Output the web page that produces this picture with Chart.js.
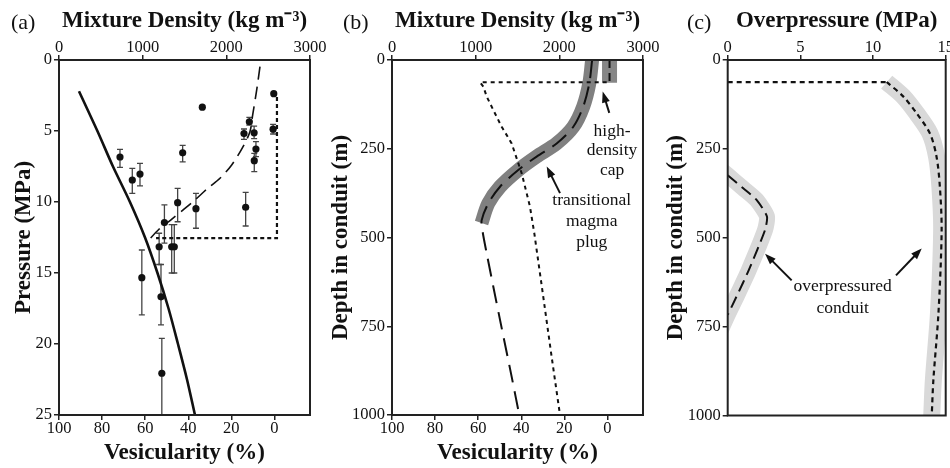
<!DOCTYPE html>
<html>
<head>
<meta charset="utf-8">
<script src="https://cdn.jsdelivr.net/npm/chart.js@4"></script>
<style>
  body { margin: 0; background: #fff; width: 950px; height: 468px; position: relative; overflow: hidden; }
  .panel { position: absolute; top: 0; height: 468px; }
  .tag { position: absolute; top: 11px; font: 22px/1 'Liberation Serif', serif; color: #111; }
</style>
</head>
<body>
<div class="panel" style="left:0;width:330px"><canvas id="ca" width="330" height="468"></canvas></div>
<div class="panel" style="left:320px;width:350px"><canvas id="cb" width="350" height="468"></canvas></div>
<div class="panel" style="left:650px;width:300px"><canvas id="cc" width="300" height="468"></canvas></div>
<div class="tag" style="left:11px">(a)</div>
<div class="tag" style="left:343px">(b)</div>
<div class="tag" style="left:687px">(c)</div>
<script>
const SERIF = "'Liberation Serif', 'Times New Roman', serif";

// tick labels
const DENSITY_TICKS = [0, 1000, 2000, 3000];
const VES_TICKS = [100, 80, 60, 40, 20, 0];
const PRESSURE_TICKS = [0, 5, 10, 15, 20, 25];
const DEPTH_TICKS = [0, 250, 500, 750, 1000];
const OVERP_TICKS = [0, 5, 10, 15];

// (a) mixture density (kg m-3) vs pressure (MPa)
const A_SOLID_DENSITY = [239, 459, 645, 848, 1028, 1177, 1309, 1422, 1530, 1625];
const A_SOLID_P = [2.2, 5, 7.5, 10, 12.5, 15, 17.5, 20, 22.5, 25];
const A_DASH_DENSITY = [2402, 2363, 2315, 2282, 2195, 2064, 1924, 1777, 1625, 1494, 1335, 1195, 1055];
const A_DASH_P = [0.47, 2.11, 3.87, 5.05, 6.15, 7.39, 8.33, 9.04, 9.86, 10.51, 11.27, 11.92, 12.8];
const A_DOT_DENSITY = [2605, 2605, 1160];
const A_DOT_P = [2.6, 12.55, 12.55];
const SAMPLE_DENSITY = [2567, 1713, 2275, 2211, 2332, 2559, 2354, 2334, 1478, 729, 876, 968, 1418, 1637, 2231, 1260, 1197, 1347, 1378, 990, 1219, 1229];
const SAMPLE_P =       [2.37, 3.32, 4.35, 5.18, 5.13, 4.87, 6.27, 7.09, 6.54, 6.83, 8.45, 8.03, 10.05, 10.47, 10.37, 11.45, 13.15, 13.15, 13.15, 15.33, 16.68, 22.06];
const SAMPLE_P_LOW =   [null, null, 4.04, 4.86, 4.65, 4.53, 5.75, 6.57, 6.01, 6.29, 7.63, 7.28, 9.04, 9.39, 9.32, 10.2, 12.2, 11.6, 11.6, 13.38, 14.4, 19.6];
const SAMPLE_P_HIGH =  [null, null, 4.58, 5.59, 5.54, 5.21, 6.81, 7.86, 7.18, 7.56, 9.39, 8.87, 11.39, 11.85, 11.69, 12.9, 14.4, 15.0, 15.0, 17.95, 18.66, 26];

// (b) mixture density vs depth (m)
const B_BAND_DENSITY = [2392, 2358, 2286, 2167, 1968, 1729, 1509, 1291, 1151, 1070];
const B_BAND_DEPTH = [0, 66, 131, 188, 235, 272, 310, 357, 404, 459];
const B_DASH_DENSITY = [2392, 2358, 2286, 2167, 1968, 1729, 1509, 1291, 1151, 1072, 1080, 1132, 1291, 1430, 1521];
const B_DASH_DEPTH = [0, 66, 131, 188, 235, 272, 310, 357, 404, 451, 479, 545, 732, 892, 1000];
const B_CAP_DENSITY = [2600, 2600];
const B_CAP_DEPTH = [0, 64];
const B_DOT_DENSITY = [2566, 1052, 1092, 1132, 1211, 1311, 1430, 1550, 1649, 1702, 1808, 1908, 2008];
const B_DOT_DEPTH = [63, 63, 75, 103, 141, 188, 235, 319, 413, 490, 667, 836, 1000];

// (c) overpressure (MPa) vs depth (m)
const C_TOP_P = [0, 10.94];
const C_TOP_DEPTH = [62, 62];
const C_DOT_P = [10.94, 12.09, 13.0, 13.92, 14.37, 14.6, 14.72, 14.5, 14.15, 14.04];
const C_DOT_DEPTH = [62, 103, 150, 207, 272, 357, 480, 713, 901, 1000];
const C_DASH_P = [0, 1.07, 2.0, 2.7, 2.57, 1.45, 0.6, 0];
const C_DASH_DEPTH = [324, 361, 394, 440, 478, 591, 666, 717];
const C_BAND_L_P = [-0.8, 0, 1.07, 2.0, 2.7, 2.57, 1.45, 0.6, 0, -0.6];
const C_BAND_L_DEPTH = [296, 324, 361, 394, 440, 478, 591, 666, 717, 771];

const pts = (xs, ys) => xs.map((x, i) => ({ x, y: ys[i] }));

function axis(position, min, max, ticks, title, size, titlePad, extra) {
  const horiz = position === 'top' || position === 'bottom';
  return Object.assign({
    type: 'linear', position, min, max,
    afterBuildTicks: s => { s.ticks = ticks.map(v => ({ value: v })); },
    afterFit: s => {
      if (horiz) s.height = size; else s.width = size;
      s.paddingLeft = s.paddingRight = s.paddingTop = s.paddingBottom = 0;
    },
    ticks: { color: '#111', font: { family: SERIF, size: 16.5 }, autoSkip: false, maxRotation: 0,
             callback: v => String(v),
             padding: position === 'top' ? -3 : position === 'bottom' ? -1 : 2 },
    grid: { drawOnChartArea: false, drawTicks: true, tickLength: 5, color: '#222', lineWidth: 1.5 },
    border: { display: false },
    title: { display: !!title, text: title, color: '#111', padding: titlePad,
             font: { family: SERIF, size: 23, weight: 'bold' } }
  }, extra || {});
}

function line(data, color, width, dash, extra) {
  return Object.assign({ data, showLine: true, pointRadius: 0, borderColor: color, borderWidth: width,
    borderDash: dash, borderCapStyle: 'butt', tension: 0.3, fill: false, order: 1 }, extra || {});
}

function arrow(ctx, x0, y0, x1, y1) {
  const a = Math.atan2(y1 - y0, x1 - x0), L = 11, W = 4;
  ctx.beginPath();
  ctx.moveTo(x0, y0);
  ctx.lineTo(x1 - 8 * Math.cos(a), y1 - 8 * Math.sin(a));
  ctx.stroke();
  ctx.beginPath();
  ctx.moveTo(x1, y1);
  ctx.lineTo(x1 - L * Math.cos(a) + W * Math.sin(a), y1 - L * Math.sin(a) - W * Math.cos(a));
  ctx.lineTo(x1 - L * Math.cos(a) - W * Math.sin(a), y1 - L * Math.sin(a) + W * Math.cos(a));
  ctx.closePath();
  ctx.fill();
}

// frame, error bars and text notes
const frame = {
  id: 'frame',
  afterDraw(chart) {
    const { ctx, chartArea: a } = chart;
    ctx.save();
    ctx.strokeStyle = '#222';
    ctx.lineWidth = 2;
    ctx.strokeRect(a.left, a.top, a.right - a.left, a.bottom - a.top);
    ctx.restore();
  }
};

const errorBars = {
  id: 'errorBars',
  beforeDatasetsDraw(chart) {
    const { ctx, chartArea: a } = chart, sx = chart.scales.x, sy = chart.scales.y;
    ctx.save();
    ctx.beginPath();
    ctx.rect(a.left, a.top, a.right - a.left, a.bottom - a.top);
    ctx.clip();
    ctx.strokeStyle = '#444';
    ctx.lineWidth = 1.3;
    SAMPLE_DENSITY.forEach((d, i) => {
      if (SAMPLE_P_LOW[i] == null) return;
      const px = sx.getPixelForValue(d);
      const y1 = sy.getPixelForValue(SAMPLE_P_LOW[i]), y2 = sy.getPixelForValue(SAMPLE_P_HIGH[i]);
      ctx.beginPath();
      ctx.moveTo(px, y1); ctx.lineTo(px, y2);
      ctx.moveTo(px - 3, y1); ctx.lineTo(px + 3, y1);
      ctx.moveTo(px - 3, y2); ctx.lineTo(px + 3, y2);
      ctx.stroke();
    });
    ctx.restore();
  }
};

const notes = {
  id: 'notes',
  afterDatasetsDraw(chart, args, opts) {
    const { ctx } = chart, sx = chart.scales.x, sy = chart.scales.y;
    ctx.save();
    ctx.fillStyle = '#111';
    ctx.strokeStyle = '#111';
    ctx.lineWidth = 2;
    ctx.font = `17.5px ${SERIF}`;
    ctx.textAlign = 'center';
    ctx.textBaseline = 'middle';
    (opts.labels || []).forEach(l => ctx.fillText(l.text, sx.getPixelForValue(l.x), sy.getPixelForValue(l.y)));
    (opts.arrows || []).forEach(r => arrow(ctx,
      sx.getPixelForValue(r.from[0]), sy.getPixelForValue(r.from[1]),
      sx.getPixelForValue(r.to[0]), sy.getPixelForValue(r.to[1])));
    ctx.restore();
  }
};

const common = {
  responsive: false,
  animation: false,
  events: [],
  plugins: { legend: { display: false }, tooltip: { enabled: false } }
};

// (a)
new Chart(document.getElementById('ca'), {
  type: 'scatter',
  data: {
    datasets: [
      { data: pts(SAMPLE_DENSITY, SAMPLE_P), pointRadius: 3.6, backgroundColor: '#111', borderWidth: 0, order: 0 },
      line(pts(A_SOLID_DENSITY, A_SOLID_P), '#111', 2.6, []),
      line(pts(A_DASH_DENSITY, A_DASH_P), '#111', 1.6, [13, 7]),
      line(pts(A_DOT_DENSITY, A_DOT_P), '#111', 2.2, [4, 3], { tension: 0 })
    ]
  },
  options: Object.assign({}, common, {
    layout: { padding: { left: 0, right: 20, top: 0, bottom: 0 } },
    scales: {
      x: axis('top', 0, 3000, DENSITY_TICKS, 'Mixture Density (kg m⁻³)', 60, { top: 7, bottom: 0 }),
      x2: axis('bottom', -16.5, 100, VES_TICKS, 'Vesicularity (%)', 53, { top: 0, bottom: 1 }, { reverse: true }),
      y: axis('left', 0, 25, PRESSURE_TICKS, 'Pressure (MPa)', 59, { top: 10 }, { reverse: true })
    }
  }),
  plugins: [frame, errorBars]
});

// (b)
new Chart(document.getElementById('cb'), {
  type: 'scatter',
  data: {
    datasets: [
      line(pts(B_CAP_DENSITY, B_CAP_DEPTH), '#111', 2, [8, 5], { tension: 0 }),
      line(pts(B_DASH_DENSITY, B_DASH_DEPTH), '#111', 2, [18, 9]),
      line(pts(B_DOT_DENSITY, B_DOT_DEPTH), '#111', 2, [4, 4], { tension: 0 }),
      line(pts(B_BAND_DENSITY, B_BAND_DEPTH), '#808080', 14, [], { order: 3, clip: 0 }),
      line(pts(B_CAP_DENSITY, B_CAP_DEPTH), '#868686', 15, [], { order: 3, clip: 0, tension: 0 })
    ]
  },
  options: Object.assign({}, common, {
    layout: { padding: { left: 0, right: 27, top: 0, bottom: 0 } },
    plugins: Object.assign({}, common.plugins, {
      notes: {
        labels: [
          { text: 'high-', x: 2630, y: 200 }, { text: 'density', x: 2630, y: 254 }, { text: 'cap', x: 2630, y: 310 },
          { text: 'transitional', x: 2387, y: 395 }, { text: 'magma', x: 2387, y: 456 }, { text: 'plug', x: 2387, y: 515 }
        ],
        arrows: [
          { from: [2597, 149], to: [2518, 89] },
          { from: [2008, 375], to: [1849, 300] }
        ]
      }
    }),
    scales: {
      x: axis('top', 0, 3000, DENSITY_TICKS, 'Mixture Density (kg m⁻³)', 60, { top: 7, bottom: 0 }),
      x2: axis('bottom', -16.5, 100, VES_TICKS, 'Vesicularity (%)', 53, { top: 0, bottom: 1 }, { reverse: true }),
      y: axis('left', 0, 1000, DEPTH_TICKS, 'Depth in conduit (m)', 72, { top: 7 }, { reverse: true })
    }
  }),
  plugins: [frame, notes]
});

// (c)
new Chart(document.getElementById('cc'), {
  type: 'scatter',
  data: {
    datasets: [
      line(pts(C_TOP_P, C_TOP_DEPTH), '#111', 2.2, [5, 4], { tension: 0 }),
      line(pts(C_DOT_P, C_DOT_DEPTH), '#111', 2.2, [5, 4], { tension: 0.3 }),
      line(pts(C_DASH_P, C_DASH_DEPTH), '#111', 2, [12, 6], { tension: 0.2 }),
      line(pts(C_DOT_P, C_DOT_DEPTH), '#d9d9d9', 17, [], { order: 3, clip: 0, tension: 0.3 }),
      line(pts(C_BAND_L_P, C_BAND_L_DEPTH), '#d9d9d9', 16, [], { order: 3, clip: 0, tension: 0.2 })
    ]
  },
  options: Object.assign({}, common, {
    layout: { padding: { left: 0, right: 4.3, top: 0, bottom: 52.5 } },
    plugins: Object.assign({}, common.plugins, {
      notes: {
        labels: [
          { text: 'overpressured', x: 7.91, y: 636 }, { text: 'conduit', x: 7.91, y: 698 }
        ],
        arrows: [
          { from: [4.40, 620], to: [2.57, 545] },
          { from: [11.58, 606], to: [13.35, 530] }
        ]
      }
    }),
    scales: {
      x: axis('top', 0, 15, OVERP_TICKS, 'Overpressure (MPa)', 60, { top: 7, bottom: 0 }),
      y: axis('left', 0, 1000, DEPTH_TICKS, 'Depth in conduit (m)', 77.7, { top: 12 }, { reverse: true })
    }
  }),
  plugins: [frame, notes]
});
</script>
</body>
</html>
